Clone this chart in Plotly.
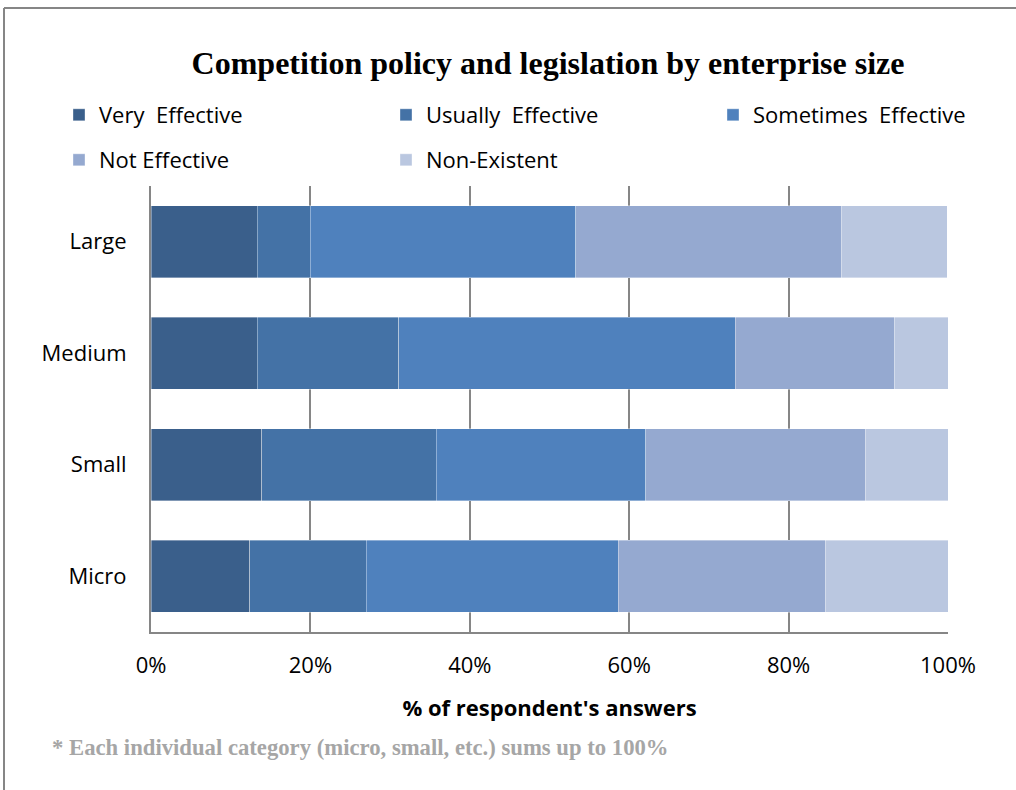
import plotly.graph_objects as go

categories = ["Large", "Medium", "Small", "Micro"]
series_names = ["Very  Effective", "Usually  Effective", "Sometimes  Effective", "Not Effective", "Non-Existent"]
very_effective = [13.3, 13.3, 13.9, 12.4]
usually_effective = [6.7, 17.8, 21.9, 14.6]
sometimes_effective = [33.3, 42.2, 26.3, 31.6]
not_effective = [33.3, 20.0, 27.5, 26.0]
non_existent = [13.3, 6.7, 10.4, 15.4]
x_ticks = [0, 20, 40, 60, 80, 100]
x_tick_labels = ["0%", "20%", "40%", "60%", "80%", "100%"]

colors = ["#3A5F8B", "#4472A6", "#4F81BD", "#95A9D0", "#BAC7E0"]
values = [very_effective, usually_effective, sometimes_effective, not_effective, non_existent]
legend_ids = ["legend", "legend2", "legend3", "legend4", "legend5"]
# legend grid positions (pixels from top-left): column left, row centre
legend_pos = [(59, 115), (386, 115), (713, 115), (59, 160), (386, 160)]

FONT = "'Open Sans', sans-serif"
SERIF = "'Liberation Serif', 'Times New Roman', serif"
GRID = "#868686"
W, H = 1016, 790
L, R, T, B = 151, 68, 186, 158
PW, PH = W - L - R, H - T - B

fig = go.Figure()
for name, vals, col, lg in zip(series_names, values, colors, legend_ids):
    fig.add_trace(go.Bar(
        y=categories, x=vals, name=name, orientation="h",
        marker=dict(color=col, line=dict(color="rgba(255,255,255,0.45)", width=0.8)),
        legend=lg,
    ))

layout_legends = {}
for lg, (lx, ly) in zip(legend_ids, legend_pos):
    layout_legends[lg] = dict(xref="container", yref="container", x=lx / W, y=1 - ly / H,
                              xanchor="left", yanchor="middle",
                              font=dict(family=FONT, size=22, color="#000"),
                              bgcolor="rgba(0,0,0,0)")

fig.update_layout(
    width=W, height=H,
    barmode="stack", bargap=0.355,
    paper_bgcolor="white", plot_bgcolor="white",
    margin=dict(l=L, r=R, t=T, b=B, autoexpand=False),
    font=dict(family=FONT, size=22, color="#000000"),
    title=dict(text="<b>Competition policy and legislation by enterprise size</b>",
               font=dict(family=SERIF, size=32, color="#000"),
               x=548 / W, xanchor="center", xref="container", y=1 - 63 / H, yanchor="middle", yref="container"),
    xaxis=dict(range=[0, 100], tickvals=x_ticks, ticktext=x_tick_labels,
               showgrid=True, gridcolor=GRID, gridwidth=2,
               showline=True, linecolor=GRID, linewidth=2, ticks="",
               ticklabelstandoff=13, zeroline=False,
               title=dict(text="<b>% of respondent's answers</b>", font=dict(family=FONT, size=22), standoff=22),
               tickfont=dict(family=FONT, size=22)),
    yaxis=dict(categoryorder="array", categoryarray=categories[::-1],
               showline=True, linecolor=GRID, linewidth=2, ticks="", showgrid=False,
               ticklabelstandoff=18, tickfont=dict(family=FONT, size=22)),
    showlegend=True,
    **layout_legends,
)

fig.add_annotation(text="<b>* Each individual category (micro, small, etc.) sums up to 100%</b>",
                   xref="paper", yref="paper", x=(50 - L) / PW, y=(H - B - 748) / PH,
                   xanchor="left", yanchor="middle", showarrow=False,
                   font=dict(family=SERIF, size=22.7, color="#A6A6A6"))

# outer chart border (left and top edges visible)
bx = (4 - L) / PW
by = (H - B - 8) / PH
fig.add_shape(type="line", xref="paper", yref="paper", x0=bx, x1=(W + 10 - L) / PW,
              y0=by, y1=by, line=dict(color=GRID, width=2))
fig.add_shape(type="line", xref="paper", yref="paper", x0=bx, x1=bx,
              y0=by, y1=(H - B - H - 10) / PH, line=dict(color=GRID, width=2))

fig.write_html("out.html", config={"displayModeBar": False},
               post_script="document.body.style.margin='0';document.body.style.overflow='hidden';")
